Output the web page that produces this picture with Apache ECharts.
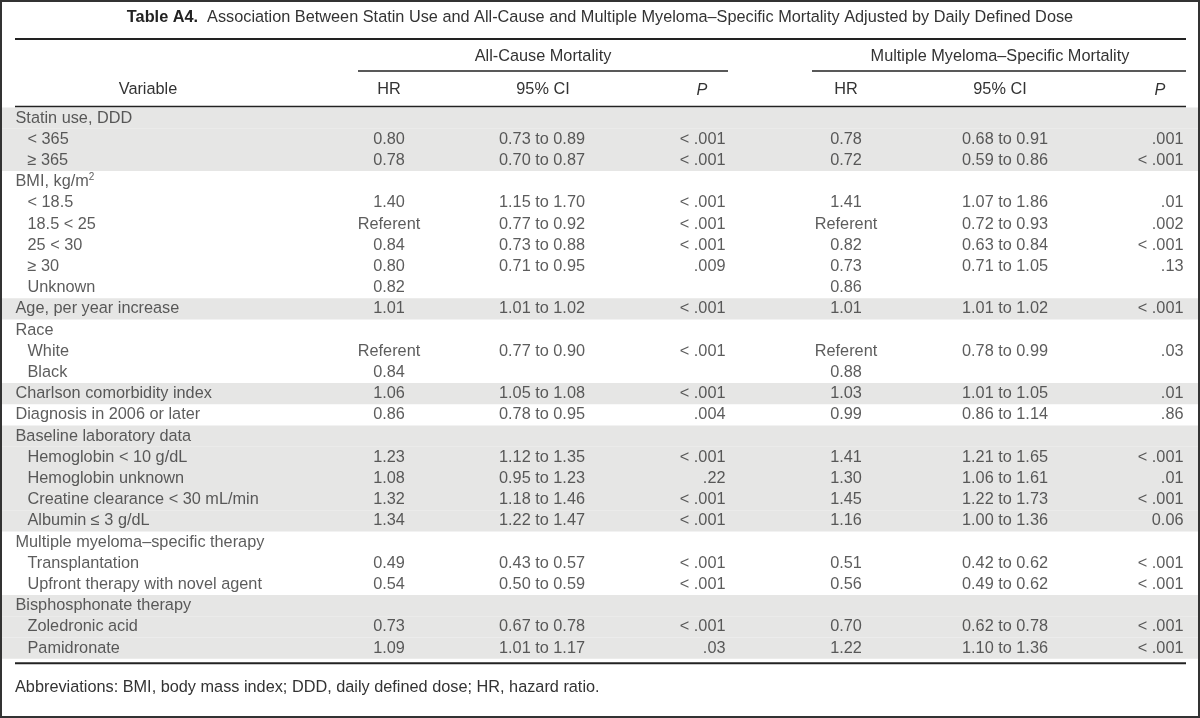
<!DOCTYPE html>
<html><head><meta charset="utf-8">
<script src="https://cdn.jsdelivr.net/npm/echarts/dist/echarts.min.js"></script>
<style>html,body{margin:0;padding:0;background:#fff}#c{width:1200px;height:718px}</style>
</head><body><div id="c"></div>
<script>
// ---- data ----
const tableTitleBold = 'Table A4.';
const tableTitle = 'Association Between Statin Use and All-Cause and Multiple Myeloma–Specific Mortality Adjusted by Daily Defined Dose';
const groupHeaders = ['All-Cause Mortality', 'Multiple Myeloma–Specific Mortality'];
const colHeaders = ['Variable', 'HR', '95% CI', 'P', 'HR', '95% CI', 'P'];
const footnote = 'Abbreviations: BMI, body mass index; DDD, daily defined dose; HR, hazard ratio.';

const variables = [
  'Statin use, DDD', '< 365', '≥ 365',
  'BMI, kg/m²', '< 18.5', '18.5 < 25', '25 < 30', '≥ 30', 'Unknown',
  'Age, per year increase',
  'Race', 'White', 'Black',
  'Charlson comorbidity index',
  'Diagnosis in 2006 or later',
  'Baseline laboratory data', 'Hemoglobin < 10 g/dL', 'Hemoglobin unknown', 'Creatine clearance < 30 mL/min', 'Albumin ≤ 3 g/dL',
  'Multiple myeloma–specific therapy', 'Transplantation', 'Upfront therapy with novel agent',
  'Bisphosphonate therapy', 'Zoledronic acid', 'Pamidronate'
];
const indent = [0,1,1, 0,1,1,1,1,1, 0, 0,1,1, 0, 0, 0,1,1,1,1, 0,1,1, 0,1,1];
const shaded = [1,1,1, 0,0,0,0,0,0, 1, 0,0,0, 1, 0, 1,1,1,1,1, 0,0,0, 1,1,1];

const acHR = ['', '0.80', '0.78', '', '1.40', 'Referent', '0.84', '0.80', '0.82', '1.01', '', 'Referent', '0.84', '1.06', '0.86', '', '1.23', '1.08', '1.32', '1.34', '', '0.49', '0.54', '', '0.73', '1.09'];
const acCI = ['', '0.73 to 0.89', '0.70 to 0.87', '', '1.15 to 1.70', '0.77 to 0.92', '0.73 to 0.88', '0.71 to 0.95', '', '1.01 to 1.02', '', '0.77 to 0.90', '', '1.05 to 1.08', '0.78 to 0.95', '', '1.12 to 1.35', '0.95 to 1.23', '1.18 to 1.46', '1.22 to 1.47', '', '0.43 to 0.57', '0.50 to 0.59', '', '0.67 to 0.78', '1.01 to 1.17'];
const acP = ['', '< .001', '< .001', '', '< .001', '< .001', '< .001', '.009', '', '< .001', '', '< .001', '', '< .001', '.004', '', '< .001', '.22', '< .001', '< .001', '', '< .001', '< .001', '', '< .001', '.03'];
const mmHR = ['', '0.78', '0.72', '', '1.41', 'Referent', '0.82', '0.73', '0.86', '1.01', '', 'Referent', '0.88', '1.03', '0.99', '', '1.41', '1.30', '1.45', '1.16', '', '0.51', '0.56', '', '0.70', '1.22'];
const mmCI = ['', '0.68 to 0.91', '0.59 to 0.86', '', '1.07 to 1.86', '0.72 to 0.93', '0.63 to 0.84', '0.71 to 1.05', '', '1.01 to 1.02', '', '0.78 to 0.99', '', '1.01 to 1.05', '0.86 to 1.14', '', '1.21 to 1.65', '1.06 to 1.61', '1.22 to 1.73', '1.00 to 1.36', '', '0.42 to 0.62', '0.49 to 0.62', '', '0.62 to 0.78', '1.10 to 1.36'];
const mmP = ['', '.001', '< .001', '', '.01', '.002', '< .001', '.13', '', '< .001', '', '.03', '', '.01', '.86', '', '< .001', '.01', '< .001', '0.06', '', '< .001', '< .001', '', '< .001', '< .001'];

// ---- layout ----
const FONT = 'Liberation Sans, Arial, sans-serif';
const TXT = '#333';
const FS = 16.3;
const ROW_TOP = 107.5, ROW_H = 21.2;
const X = { var0: 15, var1: 27, acHR: 389, acCI: 542, acP: 726, mmHR: 846, mmCI: 1005, mmP: 1184 };
const HDR_X = [148, 389, 543, 702, 846, 1000, 1160];
const GRP_X = [543, 1000];
const RULE_L = 15, RULE_R = 1186;

function textSeries(values, xFn, pos) {
  return {
    type: 'scatter', silent: true, z: 5,
    symbolSize: 1, itemStyle: { color: 'rgba(0,0,0,0)' },
    data: values.map((v, i) => v ? { value: [xFn(i), String(i)], name: v } : null).filter(d => d),
    label: {
      show: true, position: pos, distance: 0, color: TXT, fontSize: FS, fontFamily: FONT,
      formatter: p => p.name.replace('²', '{sup|2}'),
      rich: { sup: { fontSize: 10, color: TXT, fontFamily: FONT, padding: [0, 0, 8, 0] } }
    },
    emphasis: { disabled: true }
  };
}

const chart = echarts.init(document.getElementById('c'), null, { renderer: 'canvas' });
const hline = (x1, x2, y, w) => ({ type: 'line', z: 100, shape: { x1, y1: y, x2, y2: y }, style: { stroke: '#222', lineWidth: w } });
const htext = (x, y, t, align, italic) => ({ type: 'text', z: 100, x, y, style: { text: t, fill: TXT, font: (italic ? 'italic ' : '') + FS + 'px ' + FONT, textAlign: align, textVerticalAlign: 'middle' } });

const graphics = [
  { type: 'rect', z: 110, shape: { x: 1, y: 1, width: 1198, height: 716 }, style: { fill: null, stroke: '#333', lineWidth: 2 } },
  hline(RULE_L, RULE_R, 39, 2),
  hline(358, 728, 71, 1.5),
  hline(812, RULE_R, 71, 1.5),
  hline(RULE_L, RULE_R, 106.5, 1.5),
  hline(RULE_L, RULE_R, ROW_TOP + ROW_H * variables.length + 4.5, 2),
  htext(GRP_X[0], 57, groupHeaders[0], 'center'),
  htext(GRP_X[1], 57, groupHeaders[1], 'center'),
  htext(RULE_L, 688, footnote, 'left')
];
colHeaders.forEach((h, i) => graphics.push(htext(HDR_X[i], 90, h, 'center', h === 'P')));

chart.setOption({
  animation: false,
  backgroundColor: '#fff',
  title: {
    text: '{b|' + tableTitleBold + '}  ' + tableTitle,
    left: 'center', top: 5,
    textStyle: { fontSize: FS, fontWeight: 'normal', color: TXT, fontFamily: FONT,
      rich: { b: { fontSize: FS, fontWeight: 'bold', color: '#222', fontFamily: FONT } } }
  },
  grid: { left: 0, right: 0, top: ROW_TOP, height: ROW_H * variables.length, containLabel: false },
  xAxis: { type: 'value', min: 0, max: 1200, show: false },
  yAxis: { type: 'category', inverse: true, show: false, data: variables.map((_, i) => String(i)) },
  graphic: graphics,
  series: [
    { type: 'bar', silent: true, z: 1, barWidth: '100%', itemStyle: { color: '#e6e6e5' },
      data: shaded.map(s => s ? 1198 : null) },
    textSeries(variables, i => indent[i] ? X.var1 : X.var0, 'right'),
    textSeries(acHR, () => X.acHR, 'inside'),
    textSeries(acCI, () => X.acCI, 'inside'),
    textSeries(acP, () => X.acP, 'left'),
    textSeries(mmHR, () => X.mmHR, 'inside'),
    textSeries(mmCI, () => X.mmCI, 'inside'),
    textSeries(mmP, () => X.mmP, 'left')
  ]
});
</script></body></html>
